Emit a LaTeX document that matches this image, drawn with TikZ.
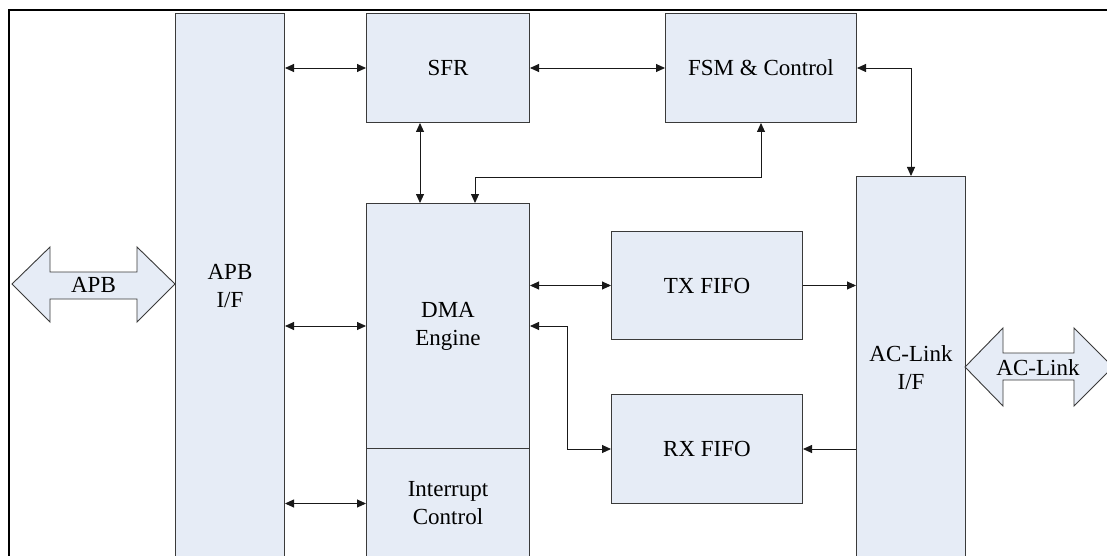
\documentclass[tikz,border=0pt]{standalone}
\usepackage{fontspec}
\setmainfont{Liberation Serif}
\usetikzlibrary{arrows.meta}
\definecolor{boxfill}{HTML}{E6ECF6}
\definecolor{boxline}{HTML}{3A3A3A}
\tikzset{
  blk/.style={draw=boxline, fill=boxfill, line width=1pt, inner sep=0pt, anchor=north west,
              align=center, font=\fontsize{23}{28}\selectfont},
  conn/.style={draw=black!90, line width=0.9pt, {Triangle[length=9pt,width=8pt]}-{Triangle[length=9pt,width=8pt]}},
  oneway/.style={draw=black!90, line width=0.9pt, -{Triangle[length=9pt,width=8pt]}},
  hollow/.style={draw=boxline, fill=boxfill, line width=0.9pt, line join=miter},
  lbl/.style={font=\fontsize{23}{28}\selectfont, inner sep=0pt}
}
\begin{document}
\begin{tikzpicture}[x=1pt,y=-1pt]
\useasboundingbox (0,0) rectangle (1107,556);
\clip (0,0) rectangle (1107,556);
\fill[white] (0,0) rectangle (1107,556);
% frame
\draw[line width=2pt] (9,600) -- (9,10) -- (1130,10);

% blocks
\node[blk, minimum width=109pt, minimum height=545pt] (apbif) at (175,13) {APB\\I/F};
\node[blk, minimum width=163pt, minimum height=109pt] (sfr) at (366,13) {SFR};
\node[blk, minimum width=191pt, minimum height=109pt] (fsm) at (665,13) {FSM \& Control};
\node[blk, minimum width=163pt, minimum height=245pt] (dma) at (366,203) {DMA\\Engine};
\node[blk, minimum width=163pt, minimum height=110pt] (irq) at (366,448) {Interrupt\\Control};
\node[blk, minimum width=191pt, minimum height=108pt] (tx) at (611,231) {TX FIFO};
\node[blk, minimum width=191pt, minimum height=109pt] (rx) at (611,394) {RX FIFO};
\node[blk, minimum width=109pt, minimum height=382pt] (aclink) at (856,176) {AC-Link\\I/F};

% hollow bus arrows
\draw[hollow] (12,284) -- (50,247) -- (50,272) -- (137,272) -- (137,247) -- (175,284)
  -- (137,322) -- (137,299) -- (50,299) -- (50,322) -- cycle;
\node[lbl] (apb) at (93.5,285) {APB};
\draw[hollow] (965,367) -- (1003,328) -- (1003,353) -- (1074,353) -- (1074,328) -- (1113,367)
  -- (1074,406) -- (1074,380) -- (1003,380) -- (1003,406) -- cycle;
\node[lbl] (aclk) at (1038,368) {AC-Link};

% connectors
\draw[conn] (sfr.west -| apbif.east) -- (sfr.west);
\draw[conn] (dma.west -| apbif.east) -- (dma.west);
\draw[conn] (irq.west -| apbif.east) -- (irq.west);
\draw[conn] (sfr.east) -- (fsm.west);
\draw[conn] ([xshift=54pt]sfr.south west) -- ([xshift=54pt]dma.north west);
\draw[conn] ([xshift=96pt]fsm.south west) -- ++(0,54) -| ([xshift=109pt]dma.north west);
\draw[conn] (fsm.east) -| (aclink.north);
\draw[conn] (tx.west -| dma.east) -- (tx.west);
\draw[oneway] (tx.east) -- (tx.east -| aclink.west);
\draw[conn] (rx.west) -- ++(-44,0) |- (dma.east);
\draw[oneway] (rx.east -| aclink.west) -- (rx.east);
\end{tikzpicture}
\end{document}
